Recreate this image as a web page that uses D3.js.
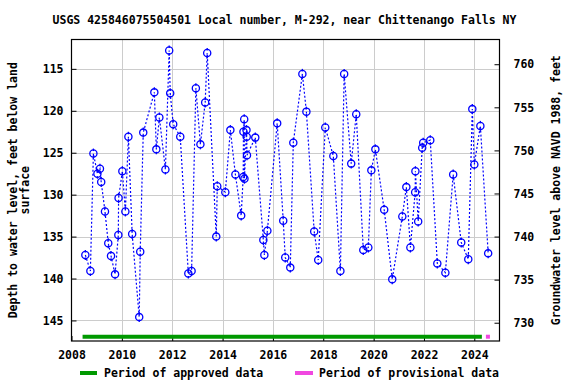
<!DOCTYPE html>
<html><head><meta charset="utf-8">
<script src="https://cdn.jsdelivr.net/npm/d3@7"></script>
<style>
html,body{margin:0;padding:0;background:#fff;}
text{font-family:"DejaVu Sans Mono",monospace;font-weight:bold;fill:#000;}
</style></head>
<body>
<svg id="chart" width="576" height="384"></svg>
<script>
const title = "USGS 425846075504501 Local number, M-292, near Chittenango Falls NY";
const yLabelLeft = ["Depth to water level, feet below land", "surface"];
const yLabelRight = "Groundwater level above NAVD 1988, feet";

// measurement dates (decimal years) and depth to water (ft below land surface)
const dates = [2008.55,2008.75,2008.87,2009.03,2009.13,2009.18,2009.33,2009.46,2009.57,2009.73,
  2009.86,2009.87,2010.02,2010.14,2010.26,2010.41,2010.69,2010.73,2010.85,2011.29,
  2011.37,2011.49,2011.73,2011.88,2011.92,2012.04,2012.32,2012.64,2012.77,2012.94,
  2013.12,2013.31,2013.39,2013.75,2013.79,2014.11,2014.31,2014.51,2014.74,2014.82,
  2014.83,2014.86,2014.87,2014.95,2014.96,2014.97,2015.30,2015.62,2015.66,2015.78,
  2016.17,2016.41,2016.49,2016.69,2016.81,2017.17,2017.33,2017.64,2017.80,2018.08,
  2018.40,2018.68,2018.83,2019.11,2019.31,2019.59,2019.79,2019.91,2020.07,2020.42,
  2020.74,2021.14,2021.30,2021.46,2021.65,2021.66,2021.77,2021.93,2021.97,2022.25,
  2022.53,2022.85,2023.16,2023.48,2023.76,2023.92,2024.00,2024.24,2024.55];
const depths = [137.2,139.1,125.1,127.5,126.9,128.5,132.0,135.8,137.3,139.5,
  134.8,130.4,127.2,132.0,123.1,134.7,144.6,136.8,122.6,117.8,
  124.6,120.8,127.0,112.8,117.9,121.6,123.1,139.4,139.1,117.3,
  124.0,119.0,113.1,135.0,129.0,129.7,122.3,127.6,132.5,127.9,
  122.5,121.0,128.1,122.3,123.1,125.3,123.2,135.4,137.2,134.3,
  121.5,133.1,137.5,138.7,123.8,115.6,120.1,134.4,137.8,122.0,
  125.4,139.1,115.6,126.3,120.4,136.6,136.3,127.1,124.6,131.8,
  140.1,132.6,129.1,136.3,129.7,127.2,133.2,124.4,123.8,123.5,
  138.2,139.3,127.6,135.7,137.7,119.8,126.4,121.8,137.0];

const xTicks = [2008,2010,2012,2014,2016,2018,2020,2022,2024];
const yTicksLeft = [115,120,125,130,135,140,145];
const yTicksRight = [730,735,740,745,750,755,760];

const approvedPeriod = [2008.44, 2024.30];
const provisionalPeriod = [2024.46, 2024.62];
const legendLabels = ["Period of approved data", "Period of provisional data"];

const svg = d3.select("#chart");
const L = 71.5, R = 499.5, T = 39.5, B = 341;
const x = d3.scaleLinear().domain([2008, 2025]).range([L, R]);
const y = d3.scaleLinear().domain([111.5, 147.45]).range([T, B]);
const y2 = d3.scaleLinear().domain([762.87, 727.88]).range([T, B]);

// grid
const grid = svg.append("g").attr("stroke", "#cccccc").attr("stroke-width", 1);
xTicks.filter(t => t > 2008).forEach(t => {
  grid.append("line").attr("x1", Math.round(x(t)) + 0.5).attr("x2", Math.round(x(t)) + 0.5)
    .attr("y1", T).attr("y2", B);
});
yTicksLeft.forEach(t => {
  grid.append("line").attr("x1", L).attr("x2", R)
    .attr("y1", Math.round(y(t)) + 0.5).attr("y2", Math.round(y(t)) + 0.5);
});

// axes
const fs = "11.5px";
const axL = svg.append("g").attr("transform", `translate(${L},0)`)
  .call(d3.axisLeft(y).tickValues(yTicksLeft).tickSize(-5).tickPadding(8).tickFormat(d3.format("d")));
const axR = svg.append("g").attr("transform", `translate(${R},0)`)
  .call(d3.axisRight(y2).tickValues(yTicksRight).tickSize(-5).tickPadding(14).tickFormat(d3.format("d")));
const axB = svg.append("g").attr("transform", `translate(0,${B})`)
  .call(d3.axisBottom(x).tickValues(xTicks).tickSize(-5).tickPadding(10).tickFormat(d3.format("d")));
[axL, axR, axB].forEach(a => {
  a.select(".domain").remove();
  a.selectAll("text").style("font-size", fs).style("font-family", "DejaVu Sans Mono").style("font-weight", "bold");
  a.selectAll("line").attr("stroke", "#000");
});

// frame
svg.append("rect").attr("x", L).attr("y", T).attr("width", R - L).attr("height", B - T)
  .attr("fill", "none").attr("stroke", "#000").attr("stroke-width", 1.2);

// period bars
svg.append("line").attr("x1", x(approvedPeriod[0])).attr("x2", x(approvedPeriod[1]))
  .attr("y1", 336.7).attr("y2", 336.7).attr("stroke", "#009900").attr("stroke-width", 4);
svg.append("line").attr("x1", x(provisionalPeriod[0])).attr("x2", x(provisionalPeriod[1]))
  .attr("y1", 336.7).attr("y2", 336.7).attr("stroke", "#f048e0").attr("stroke-width", 4);

// data line
const pts = dates.map((d, i) => [d, depths[i]]);
svg.append("path").datum(pts)
  .attr("d", d3.line().x(d => x(d[0])).y(d => y(d[1])))
  .attr("fill", "none").attr("stroke", "#0000ff").attr("stroke-width", 1.2)
  .attr("stroke-dasharray", "2,2");

// markers
const mk = svg.append("g").attr("stroke", "#0000ff").attr("fill", "none").attr("stroke-width", 1.3);
pts.forEach(p => {
  const cx = x(p[0]), cy = y(p[1]);
  mk.append("circle").attr("cx", cx).attr("cy", cy).attr("r", 3.6);
  mk.append("line").attr("x1", cx).attr("x2", cx).attr("y1", cy - 5).attr("y2", cy - 2.5);
  mk.append("line").attr("x1", cx).attr("x2", cx).attr("y1", cy + 2.5).attr("y2", cy + 5);
});

// title
svg.append("text").attr("x", 284.5).attr("y", 24).attr("text-anchor", "middle")
  .style("font-size", fs).text(title);

// left y label
const ly = svg.append("text").attr("transform", `translate(17,${(T + B) / 2}) rotate(-90)`)
  .attr("text-anchor", "middle").style("font-size", fs);
ly.append("tspan").attr("x", 0).attr("dy", 0).text(yLabelLeft[0]);
ly.append("tspan").attr("x", 0).attr("dy", 12).text(yLabelLeft[1]);

// right y label
svg.append("text").attr("transform", `translate(560,${(T + B) / 2}) rotate(-90)`)
  .attr("text-anchor", "middle").style("font-size", fs).text(yLabelRight);

// legend
const lg = svg.append("g");
lg.append("line").attr("x1", 80).attr("x2", 97).attr("y1", 373).attr("y2", 373)
  .attr("stroke", "#009900").attr("stroke-width", 4);
lg.append("text").attr("x", 104).attr("y", 377).style("font-size", fs).text(legendLabels[0]);
lg.append("line").attr("x1", 295).attr("x2", 313).attr("y1", 373).attr("y2", 373)
  .attr("stroke", "#f048e0").attr("stroke-width", 4);
lg.append("text").attr("x", 319).attr("y", 377).style("font-size", fs).text(legendLabels[1]);
</script>
</body></html>
